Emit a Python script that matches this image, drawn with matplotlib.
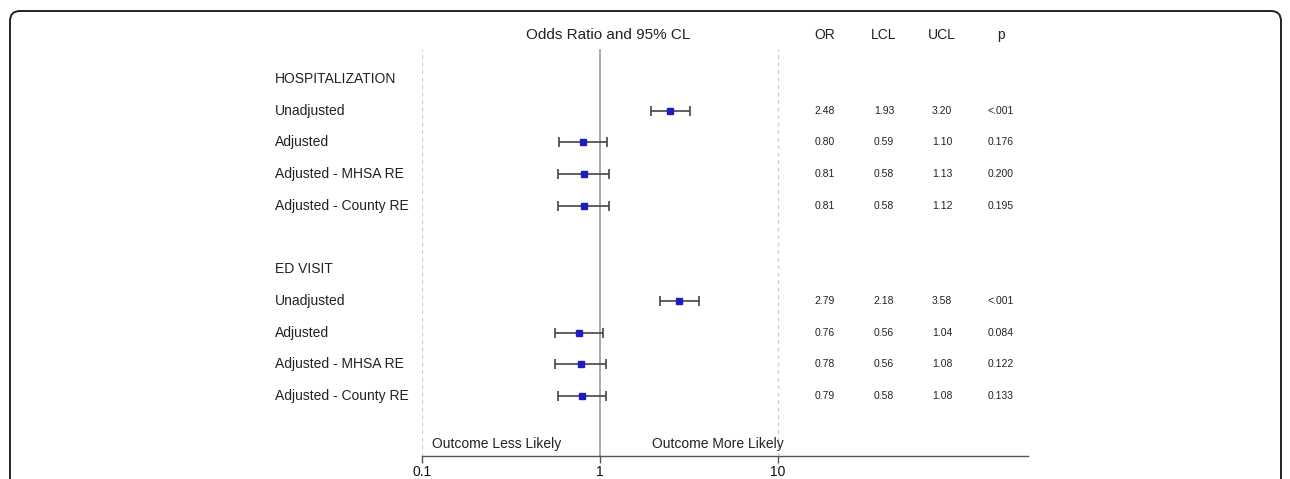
import matplotlib.pyplot as plt
from matplotlib.patches import FancyBboxPatch
from matplotlib.transforms import blended_transform_factory

plt.rcParams['font.family'] = ['Liberation Sans', 'DejaVu Sans']

# rows of the forest plot, top to bottom (None = header / blank row)
row_labels = ['HOSPITALIZATION', 'Unadjusted', 'Adjusted', 'Adjusted - MHSA RE', 'Adjusted - County RE', '',
              'ED VISIT', 'Unadjusted', 'Adjusted', 'Adjusted - MHSA RE', 'Adjusted - County RE']
odds = [None, 2.48, 0.80, 0.81, 0.81, None, None, 2.79, 0.76, 0.78, 0.79]
lcl = [None, 1.93, 0.59, 0.58, 0.58, None, None, 2.18, 0.56, 0.56, 0.58]
ucl = [None, 3.20, 1.10, 1.13, 1.12, None, None, 3.58, 1.04, 1.08, 1.08]
pvals = [None, '<.001', '0.176', '0.200', '0.195', None, None, '<.001', '0.084', '0.122', '0.133']

col_headers = ['OR', 'LCL', 'UCL', 'p']
x_ticks = [0.1, 1, 10]
x_tick_labels = ['0.1', '1', '10']

W, H = 1290, 479
fig = plt.figure(figsize=(W / 100, H / 100), dpi=100)

# page frame with rounded corners
bg = fig.add_axes([0, 0, 1, 1])
bg.set_xlim(0, W)
bg.set_ylim(H, 0)
bg.axis('off')
bg.add_patch(FancyBboxPatch((10, 11), 1271, 500, boxstyle='round,pad=0,rounding_size=10',
                            fill=False, ec='#222222', lw=1.4, clip_on=False))

# forest plot axes: 0.1 at x=421.7, 10 at x=778, axis line to x=1028
left, right = 421.7, 1028
top, bottom = 49, 456
decade = (778 - 421.7) / 2
xmax = 10 ** ((right - left) / decade - 1)
ax = fig.add_axes([left / W, 1 - bottom / H, (right - left) / W, (bottom - top) / H])
ax.set_xscale('log')
ax.set_xlim(0.1, xmax)
row0, step = 79, 31.7
ax.set_ylim((bottom - row0) / step, (top - row0) / step)
ax.patch.set_alpha(0)

for s in ['top', 'right', 'left']:
    ax.spines[s].set_visible(False)
ax.spines['bottom'].set_color('#555555')
ax.spines['bottom'].set_linewidth(1.0)
ax.set_yticks([])
ax.set_xticks(x_ticks)
ax.set_xticklabels(x_tick_labels, fontsize=10)
ax.xaxis.set_minor_locator(plt.NullLocator())
ax.tick_params(axis='x', length=5, width=1, color='#555555', pad=1.5, labelcolor='#111111')

ax.axvline(1, color='#999999', lw=1.2)
ax.axvline(0.1, color='#cccccc', lw=0.9, ls=(0, (3, 3)))
ax.axvline(10, color='#cccccc', lw=0.9, ls=(0, (3, 3)))

for i, (o, lo, hi) in enumerate(zip(odds, lcl, ucl)):
    if o is None:
        continue
    ax.errorbar(o, i, xerr=[[o - lo], [hi - o]], fmt='s', color='#1c1cc0', ms=5,
                ecolor='#444444', elinewidth=1.2, capsize=3.8, capthick=1.2)

ax.text(0.1146, 11.5, 'Outcome Less Likely', ha='left', va='center', fontsize=10, color='#222222')
ax.text(10.8, 11.5, 'Outcome More Likely', ha='right', va='center', fontsize=10, color='#222222')

# labels and table columns, x in figure pixels, y in data rows
tr = blended_transform_factory(bg.transData, ax.transData)
for i, lab in enumerate(row_labels):
    ax.text(275, i, lab, transform=tr, ha='left', va='center', fontsize=10, color='#222222')

col_x = [825, 884, 942, 1001]
for i in range(len(row_labels)):
    if odds[i] is None:
        continue
    cells = ['%.2f' % odds[i], '%.2f' % lcl[i], '%.2f' % ucl[i], pvals[i]]
    for cx, c in zip(col_x, cells):
        ax.text(cx, i, c, transform=tr, ha='center', va='center', fontsize=7.5, color='#222222')

bg.text(608, 35, 'Odds Ratio and 95% CL', ha='center', va='center', fontsize=11, color='#222222')
for cx, h in zip(col_x, col_headers):
    bg.text(cx, 35, h, ha='center', va='center', fontsize=10, color='#222222')

fig.savefig('out.png', dpi=100)
